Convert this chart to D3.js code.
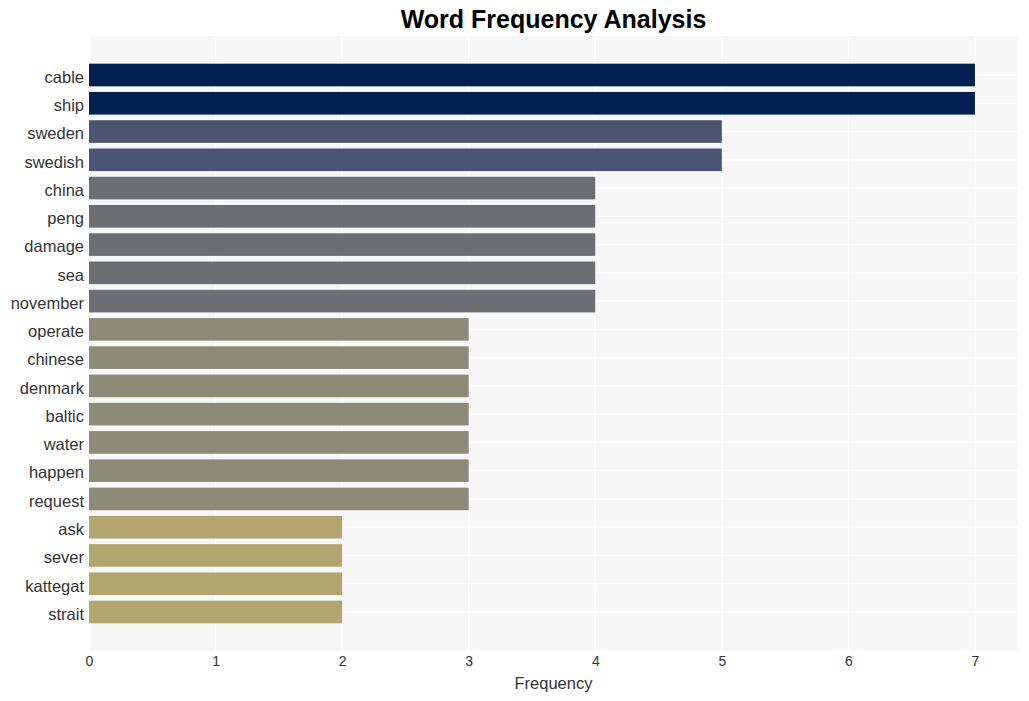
<!DOCTYPE html>
<html><head><meta charset="utf-8">
<script src="https://cdn.jsdelivr.net/npm/d3@7"></script>
<style>body{margin:0;background:#fff}</style>
</head><body>
<svg id="c" width="1029" height="701"></svg>
<script>
const words = ["cable","ship","sweden","swedish","china","peng","damage","sea","november","operate","chinese","denmark","baltic","water","happen","request","ask","sever","kattegat","strait"];
const counts = [7,7,5,5,4,4,4,4,4,3,3,3,3,3,3,3,2,2,2,2];
const xTicks = [0,1,2,3,4,5,6,7];
const colorByCount = {7:"#002051",5:"#4b5470",4:"#6d6e73",3:"#8e8a78",2:"#b2a570"};

const svg = d3.select("#c");
const L = 89, R = 1018, T = 36, B = 651;
const FF = "Liberation Sans, Arial, sans-serif";
const x = d3.scaleLinear().domain([0, 7.34]).range([L, R]);
const y = d3.scaleBand().domain(words).range([T, B]).paddingInner(0.2).paddingOuter(0.98);

svg.append("rect").attr("x", L).attr("y", T).attr("width", R - L).attr("height", B - T).attr("fill", "#f7f7f7");
svg.append("g").selectAll("line").data(xTicks).join("line")
  .attr("x1", d => x(d)).attr("x2", d => x(d)).attr("y1", T).attr("y2", B)
  .attr("stroke", "#fff").attr("stroke-width", 1.2);
svg.append("g").selectAll("line").data(words).join("line")
  .attr("x1", L).attr("x2", R).attr("y1", d => y(d) + y.bandwidth() / 2).attr("y2", d => y(d) + y.bandwidth() / 2)
  .attr("stroke", "#fff").attr("stroke-width", 1.2);

svg.append("g").selectAll("rect").data(words).join("rect")
  .attr("x", x(0)).attr("y", d => y(d))
  .attr("width", (d, i) => x(counts[i]) - x(0)).attr("height", y.bandwidth())
  .attr("fill", (d, i) => colorByCount[counts[i]]);

const yAxis = svg.append("g").attr("transform", `translate(${L},0)`)
  .call(d3.axisLeft(y).tickSize(0).tickPadding(5));
yAxis.select(".domain").remove();
yAxis.selectAll("text").attr("font-family", FF).attr("font-size", 16.5).attr("fill", "#333").attr("dy", "0.38em").attr("y", 1.5);

const xAxis = svg.append("g").attr("transform", `translate(0,${B})`)
  .call(d3.axisBottom(x).tickValues(xTicks).tickSize(0).tickPadding(5).tickFormat(d3.format("d")));
xAxis.select(".domain").remove();
xAxis.selectAll("text").attr("font-family", FF).attr("font-size", 14).attr("fill", "#333");

svg.append("text").attr("x", (L + R) / 2).attr("y", 689).attr("text-anchor", "middle")
  .attr("font-family", FF).attr("font-size", 16.5).attr("fill", "#333").text("Frequency");
svg.append("text").attr("x", (L + R) / 2).attr("y", 28).attr("text-anchor", "middle")
  .attr("font-family", FF).attr("font-size", 25).attr("font-weight", "bold").attr("fill", "#000").text("Word Frequency Analysis");
</script>
</body></html>
